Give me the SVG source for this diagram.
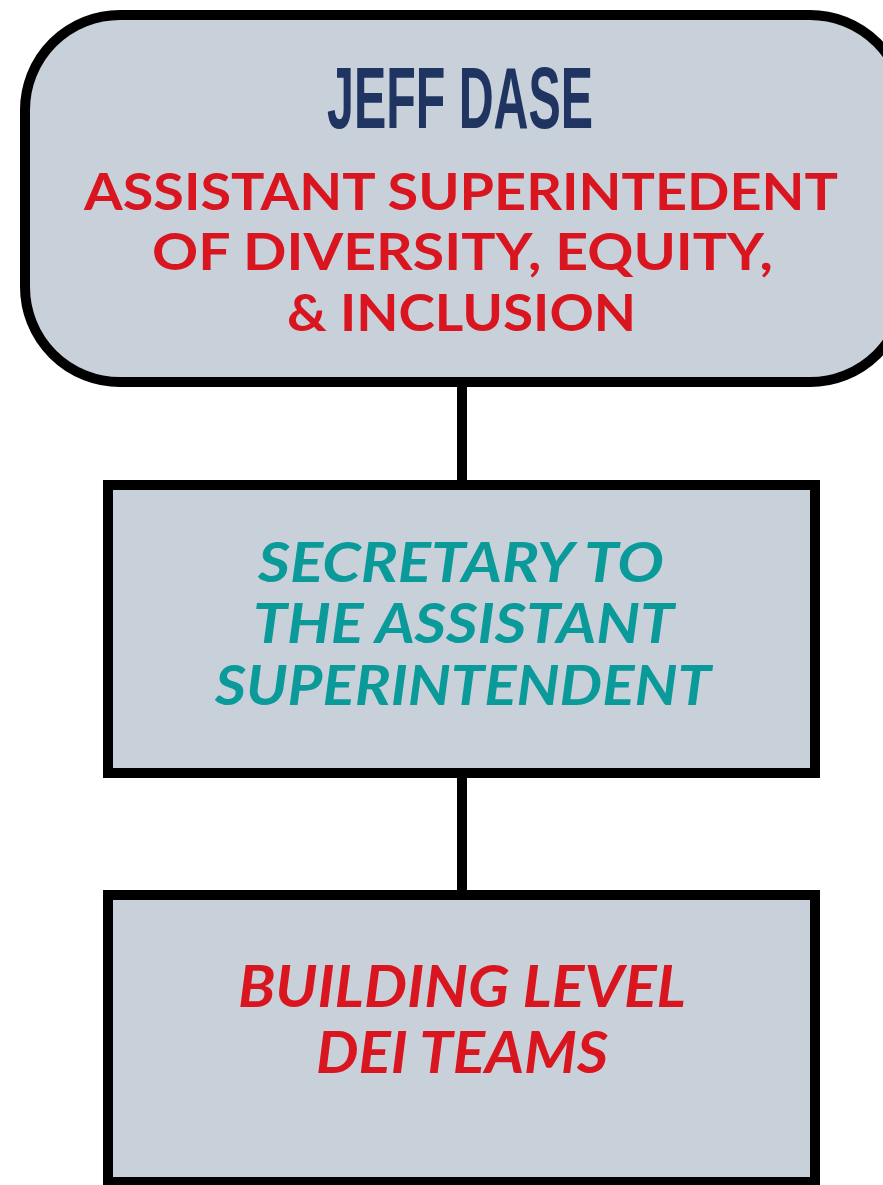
<svg xmlns="http://www.w3.org/2000/svg" width="883" height="1185" viewBox="0 0 883 1185">
<style>
.box{fill:#c8d0da;stroke:#000;stroke-width:10}
.conn{stroke:#000;stroke-width:10;fill:none}
.name{font-family:"Liberation Sans",Arial,sans-serif;font-weight:bold;fill:#1f3461;text-anchor:middle}
.title{font-family:Lato,"Liberation Sans",sans-serif;font-weight:bold;fill:#d9161f;text-anchor:middle}
.teal{font-family:Lato,"Liberation Sans",sans-serif;font-weight:bold;font-style:italic;fill:#0a9a9a;text-anchor:middle}
.red{font-family:Lato,"Liberation Sans",sans-serif;font-weight:bold;font-style:italic;fill:#d9161f;text-anchor:middle}
</style>
<rect width="883" height="1185" fill="#fff"/>
<g id="connectors">
<line class="conn" x1="462" y1="382" x2="462" y2="485"/>
<line class="conn" x1="462" y1="773" x2="462" y2="895"/>
</g>
<g id="node-dase">
<rect class="box" x="25" y="15" width="880" height="367" rx="95" ry="95"/>
<text class="name" x="460" y="128" font-size="88" textLength="266" lengthAdjust="spacingAndGlyphs">JEFF DASE</text>
<text class="title" x="461" y="210" font-size="52" textLength="754" lengthAdjust="spacingAndGlyphs">ASSISTANT SUPERINTEDENT</text>
<text class="title" x="462.5" y="270" font-size="52" textLength="621" lengthAdjust="spacingAndGlyphs">OF DIVERSITY, EQUITY,</text>
<text class="title" x="461.5" y="331" font-size="52" textLength="349" lengthAdjust="spacingAndGlyphs">&amp; INCLUSION</text>
</g>
<g id="node-secretary">
<rect class="box" x="108" y="485" width="707" height="288"/>
<text class="teal" x="461" y="582" font-size="56" textLength="406" lengthAdjust="spacingAndGlyphs">SECRETARY TO</text>
<text class="teal" x="463.5" y="643" font-size="56" textLength="421" lengthAdjust="spacingAndGlyphs">THE ASSISTANT</text>
<text class="teal" x="463" y="705" font-size="56" textLength="496" lengthAdjust="spacingAndGlyphs">SUPERINTENDENT</text>
</g>
<g id="node-teams">
<rect class="box" x="108" y="895" width="707" height="287"/>
<text class="red" x="462" y="1007" font-size="57" textLength="448" lengthAdjust="spacingAndGlyphs">BUILDING LEVEL</text>
<text class="red" x="462" y="1073" font-size="57" textLength="292" lengthAdjust="spacingAndGlyphs">DEI TEAMS</text>
</g>
</svg>
